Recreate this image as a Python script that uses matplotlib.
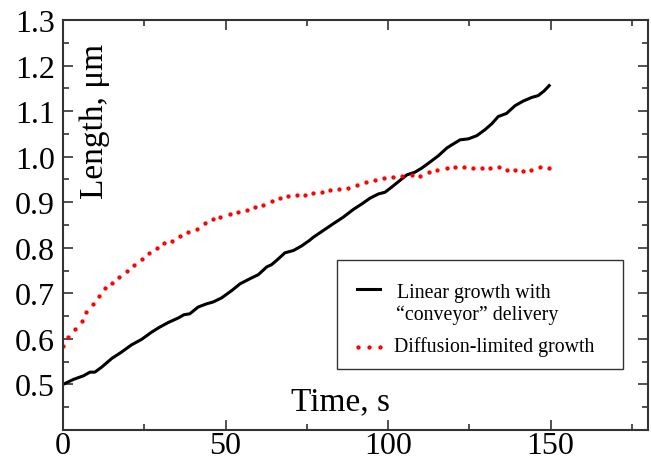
import matplotlib
matplotlib.use("Agg")
import matplotlib.pyplot as plt
from matplotlib.ticker import FixedLocator
from matplotlib.lines import Line2D
from matplotlib.patches import Rectangle

# Linear growth with "conveyor" delivery (black solid)
lin_t = [0, 3.2, 6.3, 8.3, 9.8, 11.9, 15.0, 18.0, 21.1, 24.2, 27.3, 29.8, 32.4, 35.5,
         37.2, 39.0, 41.6, 44.2, 46.2, 48.8, 51.9, 54.5, 57.5, 60.1, 62.7, 64.2, 66.3,
         68.3, 70.9, 73.4, 75.8, 77.0, 80.1, 83.2, 86.2, 89.3, 91.9, 94.5, 97.0, 99.1,
         101.1, 103.7, 105.8, 108.3, 110.4, 112.9, 115.5, 118.1, 120.1, 122.2, 124.7,
         127.3, 129.8, 131.9, 133.9, 136.5, 139.1, 141.6, 144.2, 146.2, 148.0, 149.6]
lin_y = [0.500, 0.511, 0.519, 0.527, 0.527, 0.538, 0.557, 0.571, 0.587, 0.599, 0.615,
         0.626, 0.636, 0.646, 0.653, 0.655, 0.670, 0.677, 0.681, 0.690, 0.706, 0.721,
         0.732, 0.741, 0.758, 0.763, 0.776, 0.789, 0.794, 0.804, 0.816, 0.823, 0.838,
         0.853, 0.867, 0.884, 0.896, 0.909, 0.918, 0.922, 0.933, 0.948, 0.960, 0.966,
         0.975, 0.988, 1.002, 1.019, 1.028, 1.037, 1.039, 1.046, 1.059, 1.072, 1.088,
         1.095, 1.112, 1.122, 1.130, 1.134, 1.144, 1.156]

# Diffusion-limited growth (red dotted)
dif_t = [0, 1.6, 3.7, 5.8, 7.0, 9.2, 11.0, 13.0, 15.0, 17.2, 19.6, 21.9, 24.4, 26.5,
         28.8, 31.2, 33.4, 36.0, 38.5, 41.3, 43.7, 46.2, 48.3, 51.4, 53.8, 56.6, 59.0,
         61.5, 64.2, 66.8, 69.2, 72.0, 74.5, 77.0, 79.6, 82.0, 85.0, 87.7, 90.5, 93.2,
         96.0, 98.8, 101.5, 104.3, 107.4, 109.8, 112.6, 115.0, 118.0, 120.6, 123.4,
         126.0, 129.0, 131.4, 134.0, 136.6, 139.0, 141.5, 144.0, 146.8, 149.5]
dif_y = [0.585, 0.605, 0.622, 0.640, 0.660, 0.677, 0.695, 0.712, 0.723, 0.736, 0.750,
         0.763, 0.776, 0.789, 0.800, 0.811, 0.815, 0.826, 0.835, 0.842, 0.855, 0.864,
         0.868, 0.875, 0.879, 0.883, 0.890, 0.894, 0.903, 0.909, 0.914, 0.916, 0.916,
         0.920, 0.923, 0.927, 0.929, 0.931, 0.938, 0.945, 0.949, 0.953, 0.955, 0.958,
         0.960, 0.958, 0.967, 0.971, 0.975, 0.977, 0.977, 0.975, 0.975, 0.975, 0.978,
         0.971, 0.971, 0.969, 0.971, 0.978, 0.975]

x_major = [0, 50, 100, 150]
x_minor = [25, 75, 125, 175]
y_major = [0.5, 0.6, 0.7, 0.8, 0.9, 1.0, 1.1, 1.2, 1.3]
y_minor = [0.45, 0.55, 0.65, 0.75, 0.85, 0.95, 1.05, 1.15, 1.25]

legend_labels = ['Linear growth with', '\u201cconveyor\u201d delivery', 'Diffusion-limited growth']

plt.rcParams['font.family'] = ['Liberation Serif', 'DejaVu Serif']

W, H = 651, 464
fig = plt.figure(figsize=(W / 100, H / 100), dpi=100)
ax = fig.add_axes([63 / W, 33 / H, 585 / W, 410 / H])

ax.plot(lin_t, lin_y, color='black', lw=2.2)
ax.plot(dif_t, dif_y, linestyle='none', marker='o', ms=2.1, color='red', mec='red')

ax.set_xlim(0, 180)
ax.set_ylim(0.4, 1.3)
ax.xaxis.set_major_locator(FixedLocator(x_major))
ax.xaxis.set_minor_locator(FixedLocator(x_minor))
ax.yaxis.set_major_locator(FixedLocator(y_major))
ax.yaxis.set_minor_locator(FixedLocator(y_minor))
ax.set_xticklabels([str(v) for v in x_major])
ax.set_yticklabels(['%.1f' % v for v in y_major])

for s in ax.spines.values():
    s.set_linewidth(1.5)
    s.set_color('#333333')
ax.tick_params(which='both', direction='in', top=True, right=True, color='#333333', width=1.2)
ax.tick_params(which='major', length=7.5, labelsize=23, pad=6)
ax.tick_params(axis='x', which='major', pad=1)
ax.tick_params(which='minor', length=4.5)

ax.text(0.055, 0.755, 'Length, \u03bcm', rotation=90, ha='center', va='center',
        fontsize=24, transform=ax.transAxes)
ax.text(0.474, 0.07, 'Time, s', ha='center', va='center', fontsize=24, transform=ax.transAxes)

# Legend (drawn in figure pixel coordinates)
def fx(px):
    return px / W

def fy(py):
    return 1 - py / H

fig.add_artist(Rectangle((fx(337), fy(370)), fx(623) - fx(337), fy(261) - fy(370),
                         transform=fig.transFigure, fill=True, facecolor='white',
                         edgecolor='#333333', lw=1.0))
fig.add_artist(Line2D([fx(357), fx(380)], [fy(290), fy(290)], transform=fig.transFigure,
                      color='black', lw=2.2))
fig.add_artist(Line2D([fx(358), fx(369), fx(380)], [fy(348)] * 3, transform=fig.transFigure,
                      linestyle='none', marker='o', ms=2.1, color='red', mec='red'))
fig.text(fx(397), fy(298), legend_labels[0], fontsize=14.3, va='baseline', ha='left')
fig.text(fx(396), fy(320), legend_labels[1], fontsize=14.3, va='baseline', ha='left')
fig.text(fx(394), fy(352), legend_labels[2], fontsize=14.3, va='baseline', ha='left')

fig.savefig('out.png', dpi=100)
